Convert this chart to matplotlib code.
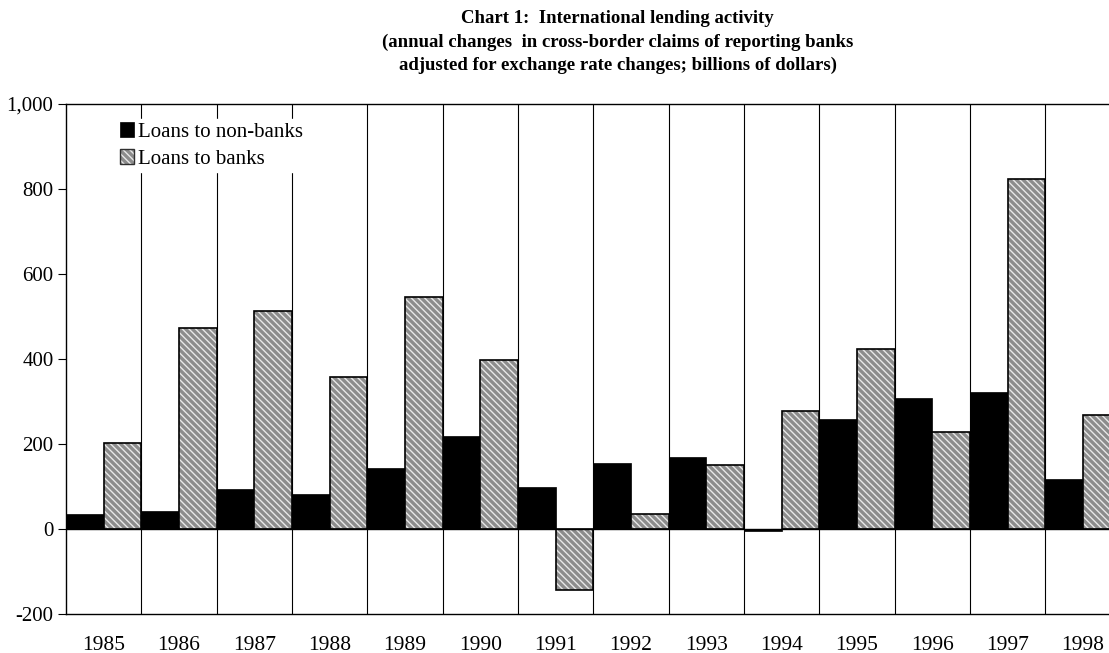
import numpy as np
import matplotlib.pyplot as plt
from matplotlib.patches import Patch
from matplotlib.legend_handler import HandlerTuple

# annual changes, billions of US dollars
years = ['1985', '1986', '1987', '1988', '1989', '1990', '1991',
         '1992', '1993', '1994', '1995', '1996', '1997', '1998']
non_banks = [36, 42, 94, 83, 143, 219, 99, 155, 168, -5, 259, 307, 323, 117]
banks = [203, 473, 512, 356, 545, 398, -144, 35, 150, 278, 422, 228, 822, 267]

plt.rcParams['font.family'] = ['Liberation Serif', 'DejaVu Serif']
plt.rcParams['hatch.linewidth'] = 1.0

GREY = '#8c8c8c'
HATCH = '\\\\\\\\\\'

fig = plt.figure(figsize=(11.09, 6.53), dpi=100)
ax = fig.add_axes([0.0595, 0.0597, 0.951, 0.7818])

x = np.arange(len(years))
w = 0.5
ax.bar(x - w / 2, non_banks, width=w, color='black', edgecolor='black',
       linewidth=0.5, zorder=3)
# hatch colour follows edgecolor, so fill with white stripes first, outline after
ax.bar(x + w / 2, banks, width=w, color=GREY, edgecolor='#e8e8e8',
       hatch=HATCH, linewidth=0, zorder=3)
ax.bar(x + w / 2, banks, width=w, fill=False, edgecolor='black',
       linewidth=1.2, zorder=3)

# separators between years
for b in np.arange(0.5, len(years) - 0.5, 1.0):
    ax.axvline(b, color='black', lw=0.8, zorder=1)

ax.set_xlim(-0.5, len(years) - 0.5)
ax.set_ylim(-200, 1000)
ax.set_yticks(range(-200, 1001, 200))
ax.set_yticklabels(['-200', '0', '200', '400', '600', '800', '1,000'])
ax.set_xticks(x)
ax.set_xticklabels(years)
ax.tick_params(axis='x', length=0, pad=16, labelsize=15.5)
ax.tick_params(axis='y', direction='out', length=6, width=0.8, labelsize=15, pad=3)
for s in ax.spines.values():
    s.set_linewidth(1.0)
ax.axhline(0, color='black', lw=1.0, zorder=4)

h_black = Patch(facecolor='black', edgecolor='black', lw=0.5)
h_fill = Patch(facecolor=GREY, edgecolor='#e8e8e8', hatch=HATCH, lw=0)
h_rim = Patch(fill=False, edgecolor='#303030', lw=1.0)
leg = ax.legend([h_black, (h_fill, h_rim)], ['Loans to non-banks', 'Loans to banks'],
                handler_map={tuple: HandlerTuple(ndivide=1)},
                loc='upper left', bbox_to_anchor=(0.048, 0.97), frameon=True,
                fontsize=15, handlelength=0.7, handleheight=0.7,
                handletextpad=0.2, labelspacing=0.38, borderpad=0.15,
                borderaxespad=0, fancybox=False)
leg.get_frame().set_edgecolor('white')
leg.get_frame().set_facecolor('white')
leg.get_frame().set_alpha(1)
leg.set_zorder(5)

fig.text(0.557, 0.984, 'Chart 1:  International lending activity\n'
         '(annual changes  in cross-border claims of reporting banks\n'
         'adjusted for exchange rate changes; billions of dollars)',
         ha='center', va='top', fontsize=13.5, fontweight='bold', linespacing=1.45)

fig.savefig('out.png', dpi=100)
